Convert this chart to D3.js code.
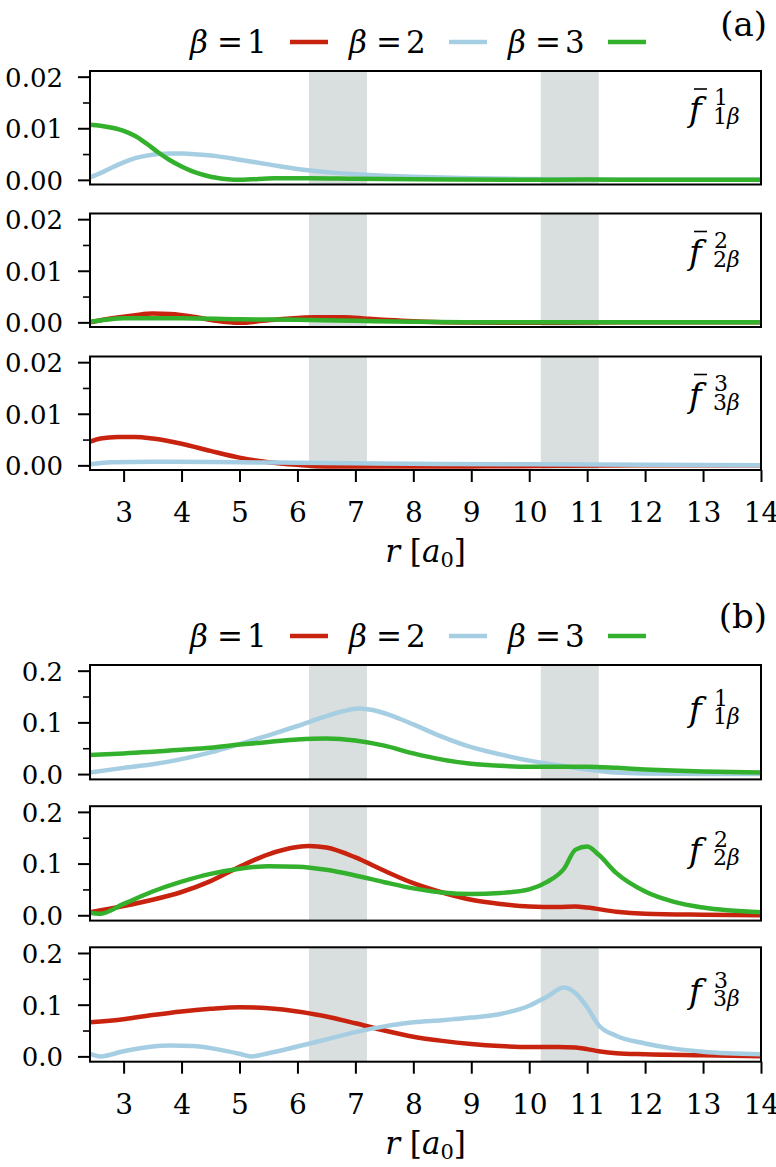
<!DOCTYPE html>
<html><head><meta charset="utf-8">
<script src="https://cdn.jsdelivr.net/npm/d3@7"></script>
<style>
body{margin:0;background:#fff}
svg{display:block}
svg text{font-family:"DejaVu Serif","Noto Serif",serif !important;fill:#000}
</style>
</head><body>
<svg id="c" width="776" height="1167"></svg>
<script>
// ---------- data ----------
const xTicks = [3,4,5,6,7,8,9,10,11,12,13,14];
const yTicksA = [0, 0.01, 0.02];
const yMinorA = [0.005, 0.015];
const yTicksB = [0, 0.1, 0.2];
const yMinorB = [0.05, 0.15];
const bands = [[6.2, 7.2], [10.2, 11.2]];
const betas = [1, 2, 3];
const colors = {1: "#c8230e", 2: "#a6cee3", 3: "#33b02c"};

// (a) panel 1 : fbar^1_{1beta}
const a1_b2 = [[2.42,0.0005],[2.6,0.0013],[2.8,0.0024],[3.0,0.0034],[3.2,0.0042],[3.4,0.0047],[3.6,0.0050],[3.8,0.0051],[4.0,0.0051],[4.3,0.0049],[4.6,0.0046],[5.0,0.0039],[5.5,0.0030],[6.0,0.0021],[6.5,0.0015],[7.0,0.0011],[7.5,0.0008],[8.0,0.0006],[9.0,0.0003],[10,0.00015],[11,0.00005],[12,0],[14,0]];
const a1_b3 = [[2.42,0.0107],[2.6,0.0105],[2.8,0.0101],[3.0,0.0095],[3.2,0.0085],[3.4,0.0070],[3.6,0.0053],[3.8,0.0038],[4.0,0.0026],[4.2,0.0016],[4.4,0.0009],[4.6,0.0004],[4.8,0.0001],[5.0,0.0],[5.2,0.0001],[5.6,0.0003],[6.2,0.0003],[7,0.0002],[8,0.0001],[10,0.0],[11,0.00005],[12,0],[14,0]];
// (a) panel 2 : fbar^2_{2beta}
const a2_b1 = [[2.42,0.0],[2.8,0.0008],[3.2,0.0014],[3.5,0.0017],[3.8,0.0016],[4.2,0.0011],[4.6,0.0003],[5.0,-0.0001],[5.4,0.0003],[5.8,0.0007],[6.3,0.0010],[6.8,0.0010],[7.2,0.0007],[7.8,0.0003],[8.5,0.0],[9.5,-0.0001],[10.5,-0.0001],[11.5,0.0],[14,0]];
const a2_b3 = [[2.42,0.0001],[2.7,0.0005],[3.0,0.0008],[4.0,0.0008],[5.0,0.0006],[6.0,0.0005],[7.0,0.0003],[8.0,0.0001],[9,0.0],[14,0]];
// (a) panel 3 : fbar^3_{3beta}
const a3_b1 = [[2.42,0.0046],[2.6,0.0052],[2.9,0.0055],[3.2,0.0055],[3.5,0.0052],[4.0,0.0042],[4.5,0.0028],[5.0,0.0015],[5.5,0.0006],[6.0,0.0001],[6.5,-0.0002],[7.5,-0.0002],[9,-0.0002],[10.5,-0.0001],[12,0],[14,0]];
const a3_b2 = [[2.42,0.0002],[2.8,0.0006],[3.5,0.0007],[5.0,0.0006],[6.0,0.0005],[7.0,0.0004],[8.0,0.0003],[10,0.0002],[12,0.0001],[14,0.0]];
// (b) panel 1 : f^1_{1beta}
const b1_b2 = [[2.42,0.003],[3.0,0.012],[3.5,0.019],[4.0,0.029],[4.5,0.042],[5.0,0.058],[5.5,0.075],[6.0,0.093],[6.5,0.112],[6.8,0.122],[7.05,0.127],[7.3,0.124],[7.6,0.114],[8.0,0.096],[8.5,0.072],[9.0,0.052],[9.5,0.038],[10.0,0.026],[10.5,0.017],[11.0,0.009],[11.5,0.003],[12,0.001],[13,0.0],[14,0.0]];
const b1_b3 = [[2.42,0.037],[3.0,0.040],[4.0,0.047],[4.5,0.051],[5.0,0.057],[5.5,0.062],[6.0,0.067],[6.5,0.069],[7.0,0.065],[7.5,0.055],[8.0,0.040],[8.5,0.028],[9.0,0.020],[9.5,0.016],[10.0,0.014],[10.5,0.014],[11.0,0.014],[11.5,0.012],[12,0.009],[13,0.005],[14,0.003]];
// (b) panel 2 : f^2_{2beta}
const b2_b1 = [[2.42,0.006],[3.0,0.018],[3.5,0.030],[4.0,0.045],[4.5,0.066],[5.0,0.094],[5.5,0.118],[6.0,0.132],[6.2,0.134],[6.5,0.131],[7.0,0.112],[7.5,0.086],[8.0,0.062],[8.5,0.044],[9.0,0.030],[9.5,0.022],[10.0,0.017],[10.5,0.016],[10.8,0.017],[11.0,0.015],[11.5,0.007],[12,0.003],[13,0.001],[14,0.0]];
const b2_b3 = [[2.42,0.005],[2.6,0.003],[3.0,0.022],[3.5,0.046],[4.0,0.065],[4.5,0.080],[5.0,0.090],[5.5,0.095],[6.0,0.094],[6.5,0.088],[7.0,0.077],[7.5,0.064],[8.0,0.052],[8.5,0.044],[9.0,0.041],[9.5,0.043],[10.0,0.050],[10.3,0.064],[10.6,0.090],[10.8,0.127],[11.0,0.133],[11.2,0.117],[11.5,0.082],[12,0.046],[12.5,0.026],[13,0.015],[14,0.006]];
// (b) panel 3 : f^3_{3beta}
const b3_b1 = [[2.42,0.066],[3.0,0.072],[3.5,0.080],[4.0,0.087],[4.5,0.092],[5.0,0.095],[5.5,0.093],[6.0,0.087],[6.5,0.077],[7.0,0.064],[7.5,0.050],[8.0,0.038],[8.5,0.030],[9.0,0.024],[9.5,0.020],[10.0,0.018],[10.5,0.018],[10.8,0.017],[11.0,0.014],[11.2,0.010],[11.5,0.006],[12,0.004],[13,0.002],[14,0.0]];
const b3_b2 = [[2.42,0.005],[2.6,0.0],[3.0,0.010],[3.5,0.019],[3.8,0.021],[4.2,0.020],[4.6,0.014],[5.0,0.005],[5.2,0.0],[5.5,0.006],[6.0,0.019],[6.5,0.033],[7.0,0.047],[7.5,0.058],[8.0,0.066],[8.5,0.070],[9.0,0.075],[9.5,0.082],[10.0,0.098],[10.3,0.115],[10.6,0.133],[10.8,0.122],[11.0,0.095],[11.2,0.060],[11.5,0.040],[12,0.025],[12.5,0.015],[13,0.009],[14,0.004]];

// ---------- layout ----------
const FONT = '"DejaVu Serif","Noto Serif",serif';
const svg = d3.select("#c");
const xL = 90, xR = 761;
const x = d3.scaleLinear().domain([2.42, 14]).range([xL, xR]);
const fmtA = d3.format(".2f"), fmtB = d3.format(".1f");

const groups = [
  {tag:"(a)", tagY:36, legY:42, tops:[71,213.5,356.5], h:113.5, yDom:[-0.0009,0.0211], ticks:yTicksA, minor:yMinorA, fmt:fmtA, bar:true,
   panels:[{k:1, s:[[2,a1_b2],[3,a1_b3]]},{k:2, s:[[1,a2_b1],[3,a2_b3]]},{k:3, s:[[1,a3_b1],[2,a3_b2]]}]},
  {tag:"(b)", tagY:628, legY:636, tops:[665,806.2,947.3], h:114.4, yDom:[-0.0103,0.211], ticks:yTicksB, minor:yMinorB, fmt:fmtB, bar:false,
   panels:[{k:1, s:[[2,b1_b2],[3,b1_b3]]},{k:2, s:[[1,b2_b1],[3,b2_b3]]},{k:3, s:[[1,b3_b1],[2,b3_b2]]}]}
];

function txt(sel) { return sel.attr("font-family", FONT).style("font-family", FONT); }

let clipId = 0;
groups.forEach(g => {
  txt(svg.append("text")).attr("x", 767).attr("y", g.tagY).attr("text-anchor","end")
     .style("font-size","34px").text(g.tag);
  const legX = [190, 349, 508];
  betas.forEach((b,i) => {
    const t = txt(svg.append("text")).attr("y", g.legY + 11).style("font-size","31px");
    t.append("tspan").attr("x", legX[i]).style("font-style","italic").text("β");
    t.append("tspan").attr("x", legX[i] + 27).text("=");
    t.append("tspan").attr("x", legX[i] + 57).text(b);
    svg.append("line").attr("x1", legX[i] + 100).attr("x2", legX[i] + 138)
       .attr("y1", g.legY).attr("y2", g.legY)
       .attr("stroke", colors[b]).attr("stroke-width", 4.5);
  });

  g.panels.forEach((p, pi) => {
    const top = g.tops[pi], bot = top + g.h;
    const y = d3.scaleLinear().domain(g.yDom).range([bot, top]);
    const gp = svg.append("g");
    const cid = "clip" + (clipId++);
    gp.append("clipPath").attr("id", cid).append("rect")
      .attr("x", xL).attr("y", top).attr("width", xR - xL).attr("height", g.h);
    gp.selectAll("rect.band").data(bands).join("rect").attr("class","band")
      .attr("x", d => x(d[0])).attr("width", d => x(d[1]) - x(d[0]))
      .attr("y", top).attr("height", g.h).attr("fill", "#d9dfdf");
    const line = d3.line().x(d => x(d[0])).y(d => y(d[1])).curve(d3.curveMonotoneX);
    p.s.forEach(([b, data]) => {
      gp.append("path").datum(data).attr("d", line)
        .attr("clip-path", `url(#${cid})`)
        .attr("fill","none").attr("stroke", colors[b]).attr("stroke-width", 4.5)
        .attr("stroke-linejoin","round");
    });
    gp.append("rect").attr("x", xL).attr("y", top).attr("width", xR - xL).attr("height", g.h)
      .attr("fill","none").attr("stroke","#000").attr("stroke-width", 2);
    const ya = d3.axisLeft(y).tickValues(g.ticks).tickFormat(g.fmt).tickSize(12).tickPadding(15);
    const yg = gp.append("g").attr("transform", `translate(${xL},0)`).call(ya);
    yg.attr("font-family", FONT);
    yg.select(".domain").remove();
    yg.selectAll(".tick line").attr("stroke-width", 2);
    txt(yg.selectAll(".tick text")).style("font-size","26px").attr("dy","0.36em");
    const ym = d3.axisLeft(y).tickValues(g.minor).tickFormat("").tickSize(7);
    const ymg = gp.append("g").attr("transform", `translate(${xL},0)`).call(ym);
    ymg.select(".domain").remove();
    ymg.selectAll(".tick line").attr("stroke-width", 1.6);
    // f label
    const lx = 689;
    const fb = g.bar ? top + 50 : top + 56;
    const sb = g.bar ? top + 34 : top + 41;
    const sub = g.bar ? top + 53 : top + 59;
    txt(gp.append("text")).attr("x", lx).attr("y", fb).style("font-size","34px").style("font-style","italic").text("f");
    if (g.bar) gp.append("line").attr("x1", lx + 5).attr("x2", lx + 18).attr("y1", top + 18).attr("y2", top + 18)
      .attr("stroke","#000").attr("stroke-width", 1.6);
    txt(gp.append("text")).attr("x", lx + 25).attr("y", sb).style("font-size","22px").text(p.k);
    const st = txt(gp.append("text")).attr("x", lx + 24).attr("y", sub).style("font-size","22px");
    st.append("tspan").text(p.k);
    st.append("tspan").style("font-style","italic").text("β");
    if (pi === 2) {
      const xa = d3.axisBottom(x).tickValues(xTicks).tickFormat(d3.format("d")).tickSize(12).tickPadding(20);
      const xg = gp.append("g").attr("transform", `translate(0,${bot})`).call(xa);
      xg.attr("font-family", FONT);
      xg.select(".domain").remove();
      xg.selectAll(".tick line").attr("stroke-width", 2);
      txt(xg.selectAll(".tick text")).style("font-size","28px").attr("dy","0.71em");
      const lt = txt(svg.append("text")).attr("x", (xL + xR) / 2).attr("y", bot + 92)
        .attr("text-anchor","middle").style("font-size","31px");
      lt.append("tspan").style("font-style","italic").text("r");
      lt.append("tspan").text(" [");
      lt.append("tspan").style("font-style","italic").text("a");
      lt.append("tspan").attr("baseline-shift","-25%").style("font-size","21px").text("0");
      lt.append("tspan").text("]");
    }
  });
});
</script>
</body></html>
